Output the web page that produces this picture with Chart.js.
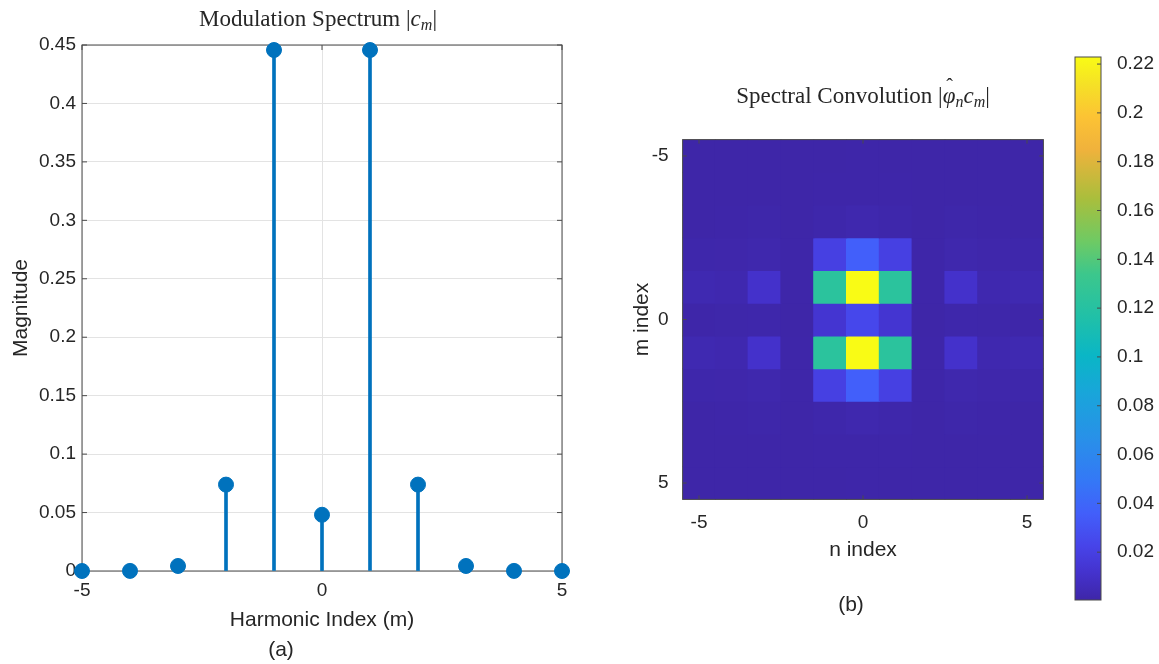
<!DOCTYPE html>
<html>
<head>
<meta charset="utf-8">
<script src="https://cdn.jsdelivr.net/npm/chart.js@4.4.1/dist/chart.umd.min.js"></script>
<style>
  html, body { margin: 0; padding: 0; background: #fff; }
  #wrap { position: relative; width: 1159px; height: 664px; overflow: hidden; background: #fff; }
  canvas { position: absolute; top: 0; }
  .lbl { position: absolute; transform: translate(-50%, -50%); white-space: nowrap; line-height: 1; color: #262626; }
  .tex { font-family: "Liberation Serif", "DejaVu Serif", serif; font-size: 23px; }
  .tex sub { font-size: 16px; vertical-align: -4px; line-height: 0; }
  .hat { position: relative; display: inline-block; }
  .hatc { position: absolute; left: 1px; right: 0; top: -8px; text-align: center; font-style: normal; font-size: 20px; }
  .cap { font-family: "Liberation Sans", Arial, sans-serif; font-size: 21px; }
</style>
</head>
<body>
<div id="wrap">
  <canvas id="stem" width="600" height="664" style="left:0"></canvas>
  <canvas id="heat" width="459" height="664" style="left:600px"></canvas>
  <canvas id="cbar" width="100" height="664" style="left:1059px"></canvas>
  <div class="lbl tex" style="left:318px; top:18px">Modulation Spectrum |<i>c</i><sub><i>m</i></sub>|</div>
  <div class="lbl tex" style="left:863px; top:95px">Spectral Convolution |<span class="hat"><i>φ</i><span class="hatc">ˆ</span></span><sub><i>n</i></sub><i>c</i><sub><i>m</i></sub>|</div>
  <div class="lbl cap" style="left:281px; top:648px">(a)</div>
  <div class="lbl cap" style="left:851px; top:603px">(b)</div>
</div>
<script>
// stem plot data
const harmonicIndex = [-5, -4, -3, -2, -1, 0, 1, 2, 3, 4, 5];
const magnitude = [0.0000, 0.0001, 0.0043, 0.0739, 0.4457, 0.0481, 0.4457, 0.0739, 0.0043, 0.0001, 0.0000];
const stemXTicks = [-5, 0, 5];
const stemYTicks = [0, 0.05, 0.1, 0.15, 0.2, 0.25, 0.3, 0.35, 0.4, 0.45];

// heatmap data, rows m = -5..5 (top to bottom), columns n = -5..5
const nIndex = [-5, -4, -3, -2, -1, 0, 1, 2, 3, 4, 5];
const mIndex = [-5, -4, -3, -2, -1, 0, 1, 2, 3, 4, 5];
const convMagnitude = [
  [0.0004, 0.0004, 0.0004, 0.0004, 0.0005, 0.0006, 0.0005, 0.0004, 0.0004, 0.0004, 0.0004],
  [0.0004, 0.0004, 0.0004, 0.0005, 0.0006, 0.0008, 0.0006, 0.0005, 0.0004, 0.0004, 0.0004],
  [0.0005, 0.0006, 0.0009, 0.0005, 0.0013, 0.0022, 0.0013, 0.0005, 0.0009, 0.0006, 0.0005],
  [0.0012, 0.0014, 0.0019, 0.0006, 0.0200, 0.0360, 0.0200, 0.0006, 0.0019, 0.0014, 0.0012],
  [0.0030, 0.0025, 0.0110, 0.0008, 0.1230, 0.2229, 0.1230, 0.0008, 0.0110, 0.0025, 0.0030],
  [0.0008, 0.0009, 0.0012, 0.0005, 0.0132, 0.0240, 0.0132, 0.0005, 0.0012, 0.0009, 0.0008],
  [0.0030, 0.0025, 0.0110, 0.0008, 0.1230, 0.2229, 0.1230, 0.0008, 0.0110, 0.0025, 0.0030],
  [0.0012, 0.0014, 0.0019, 0.0006, 0.0200, 0.0360, 0.0200, 0.0006, 0.0019, 0.0014, 0.0012],
  [0.0005, 0.0006, 0.0009, 0.0005, 0.0013, 0.0022, 0.0013, 0.0005, 0.0009, 0.0006, 0.0005],
  [0.0004, 0.0004, 0.0004, 0.0005, 0.0006, 0.0008, 0.0006, 0.0005, 0.0004, 0.0004, 0.0004],
  [0.0004, 0.0004, 0.0004, 0.0004, 0.0005, 0.0006, 0.0005, 0.0004, 0.0004, 0.0004, 0.0004]
];
const heatTicks = [-5, 0, 5];

// colorbar
const cbLimits = [0.0004, 0.2229];
const cbTicks = [0.02, 0.04, 0.06, 0.08, 0.1, 0.12, 0.14, 0.16, 0.18, 0.2, 0.22];

const BLUE = '#0072BD';
const AXIS = '#4a4a4a';
const GRID = '#e3e3e3';
const TXT = '#262626';
const SANS = '"Liberation Sans", Arial, sans-serif';
const tickFont = { family: SANS, size: 19 };
const labelFont = { family: SANS, size: 21 };

// parula-like colormap
const parula = [
  [0.00, [62, 38, 168]],
  [0.05, [68, 50, 205]],
  [0.10, [71, 68, 233]],
  [0.16, [66, 95, 250]],
  [0.22, [52, 120, 246]],
  [0.30, [40, 145, 232]],
  [0.38, [25, 165, 218]],
  [0.45, [10, 182, 198]],
  [0.52, [32, 192, 168]],
  [0.60, [60, 199, 140]],
  [0.66, [110, 202, 100]],
  [0.74, [170, 190, 60]],
  [0.83, [240, 178, 60]],
  [0.89, [252, 195, 52]],
  [0.95, [245, 225, 38]],
  [1.00, [249, 251, 21]]
];

function cmap(t) {
  t = Math.max(0, Math.min(1, t));
  for (let i = 1; i < parula.length; i++) {
    const [t1, c1] = parula[i];
    const [t0, c0] = parula[i - 1];
    if (t <= t1) {
      const f = (t - t0) / (t1 - t0);
      const c = c0.map((v, k) => Math.round(v + (c1[k] - v) * f));
      return `rgb(${c[0]},${c[1]},${c[2]})`;
    }
  }
  return 'rgb(249,251,21)';
}
const colorFor = v => cmap((v - cbLimits[0]) / (cbLimits[1] - cbLimits[0]));

// box around the plot area with inward ticks
const frame = {
  id: 'frame',
  beforeDatasetsDraw(chart, args, opts) { if (opts.layer !== 'top') drawFrame(chart, opts); },
  afterDatasetsDraw(chart, args, opts) { if (opts.layer === 'top') drawFrame(chart, opts); }
};

function drawFrame(chart, opts) {
  const { ctx, chartArea: a, scales } = chart;
  const len = opts.len || 5;
  ctx.save();
  ctx.strokeStyle = AXIS;
  ctx.lineWidth = 1;
  ctx.strokeRect(a.left, a.top, a.right - a.left, a.bottom - a.top);
  ctx.beginPath();
  if (opts.xTicks) {
    scales.x.ticks.forEach(t => {
      const p = scales.x.getPixelForValue(t.value);
      ctx.moveTo(p, a.bottom); ctx.lineTo(p, a.bottom - len);
      ctx.moveTo(p, a.top); ctx.lineTo(p, a.top + len);
    });
  }
  if (opts.yLeft || opts.yRight) {
    scales.y.ticks.forEach(t => {
      const p = scales.y.getPixelForValue(t.value);
      if (opts.yLeft) { ctx.moveTo(a.left, p); ctx.lineTo(a.left + len, p); }
      if (opts.yRight) { ctx.moveTo(a.right, p); ctx.lineTo(a.right - len, p); }
    });
  }
  ctx.stroke();
  ctx.restore();
}

const setTicks = arr => scale => { scale.ticks = arr.map(v => ({ value: v })); };

// (a) stem plot
const stemPoints = harmonicIndex.map((m, i) => ({ x: m, y: magnitude[i] }));
new Chart(document.getElementById('stem'), {
  type: 'bar',
  data: {
    datasets: [
      {
        type: 'scatter',
        data: stemPoints,
        backgroundColor: BLUE,
        borderColor: BLUE,
        pointRadius: 7.5,
        pointHoverRadius: 7.5,
        clip: false,
        order: 1
      },
      {
        type: 'bar',
        data: stemPoints,
        backgroundColor: BLUE,
        barThickness: 3,
        order: 2
      }
    ]
  },
  options: {
    responsive: false,
    animation: false,
    devicePixelRatio: 1,
    layout: { padding: { top: 45, right: 38, bottom: 0, left: 0 } },
    plugins: {
      legend: { display: false },
      tooltip: { enabled: false },
      frame: { layer: 'bottom', xTicks: true, yLeft: true, yRight: true, len: 5 }
    },
    scales: {
      x: {
        type: 'linear', min: -5, max: 5, offset: false,
        afterBuildTicks: setTicks(stemXTicks),
        afterFit: s => { s.height = 93; },
        grid: { color: GRID, drawTicks: false, offset: false },
        border: { display: false },
        ticks: { font: tickFont, color: TXT, padding: 8, maxRotation: 0, autoSkip: false, callback: v => String(v) },
        title: { display: true, text: 'Harmonic Index (m)', font: labelFont, color: TXT, padding: { top: 0, bottom: 31 } }
      },
      y: {
        min: 0, max: 0.45,
        afterBuildTicks: setTicks(stemYTicks),
        afterFit: s => { s.width = 82; },
        grid: { color: GRID, drawTicks: false },
        border: { display: false },
        ticks: { font: tickFont, color: TXT, padding: 6, autoSkip: false, callback: v => String(v) },
        title: { display: true, text: 'Magnitude', font: labelFont, color: TXT, padding: { top: 9, bottom: 0 } }
      }
    }
  },
  plugins: [frame]
});

// (b) heatmap, one floating-bar dataset per row m
const heatSets = mIndex.map((m, r) => ({
  data: nIndex.map(n => ({ x: n, y: [m - 0.5, m + 0.5] })),
  backgroundColor: convMagnitude[r].map(colorFor),
  borderWidth: 0,
  inflateAmount: 0.6,
  grouped: false,
  barPercentage: 1,
  categoryPercentage: 1
}));

new Chart(document.getElementById('heat'), {
  type: 'bar',
  data: { datasets: heatSets },
  options: {
    responsive: false,
    animation: false,
    devicePixelRatio: 1,
    layout: { padding: { top: 139.6, right: 15.6, bottom: 0, left: 0 } },
    plugins: {
      legend: { display: false },
      tooltip: { enabled: false },
      frame: { layer: 'top', xTicks: true, yLeft: true, yRight: true, len: 4 }
    },
    scales: {
      x: {
        type: 'linear', min: -5.5, max: 5.5, offset: false,
        afterBuildTicks: setTicks(heatTicks),
        afterFit: s => { s.height = 164.6; },
        grid: { display: false, offset: false },
        border: { display: false },
        ticks: { font: tickFont, color: TXT, padding: 4, maxRotation: 0, autoSkip: false, callback: v => String(v) },
        title: { display: true, text: 'n index', font: labelFont, color: TXT, padding: { top: 0, bottom: 101 } }
      },
      y: {
        type: 'linear', min: -5.5, max: 5.5, reverse: true,
        afterBuildTicks: setTicks(heatTicks),
        afterFit: s => { s.width = 82.6; },
        grid: { display: false },
        border: { display: false },
        ticks: { font: tickFont, color: TXT, padding: 6, autoSkip: false, callback: v => String(v) },
        title: { display: true, text: 'm index', font: labelFont, color: TXT, padding: { top: 30, bottom: 0 } }
      }
    }
  },
  plugins: [frame]
});

// colorbar
new Chart(document.getElementById('cbar'), {
  type: 'bar',
  data: {
    labels: [''],
    datasets: [{
      data: [cbLimits],
      borderWidth: 0,
      barPercentage: 1,
      categoryPercentage: 1,
      backgroundColor(ctx) {
        const { chart } = ctx;
        if (!chart.chartArea) return null;
        const y = chart.scales.y;
        const g = chart.ctx.createLinearGradient(0, y.getPixelForValue(cbLimits[0]), 0, y.getPixelForValue(cbLimits[1]));
        parula.forEach(([t]) => g.addColorStop(t, cmap(t)));
        return g;
      }
    }]
  },
  options: {
    responsive: false,
    animation: false,
    devicePixelRatio: 1,
    layout: { padding: { top: 57, right: 0, bottom: 64, left: 16 } },
    plugins: {
      legend: { display: false },
      tooltip: { enabled: false },
      frame: { layer: 'top', yRight: true, len: 4 }
    },
    scales: {
      x: { display: false },
      y: {
        position: 'right',
        min: cbLimits[0], max: cbLimits[1],
        afterBuildTicks: setTicks(cbTicks),
        afterFit: s => { s.width = 58; },
        grid: { display: false },
        border: { display: false },
        ticks: { font: tickFont, color: TXT, padding: 8, autoSkip: false, callback: v => String(v) }
      }
    }
  },
  plugins: [frame]
});
</script>
</body>
</html>
